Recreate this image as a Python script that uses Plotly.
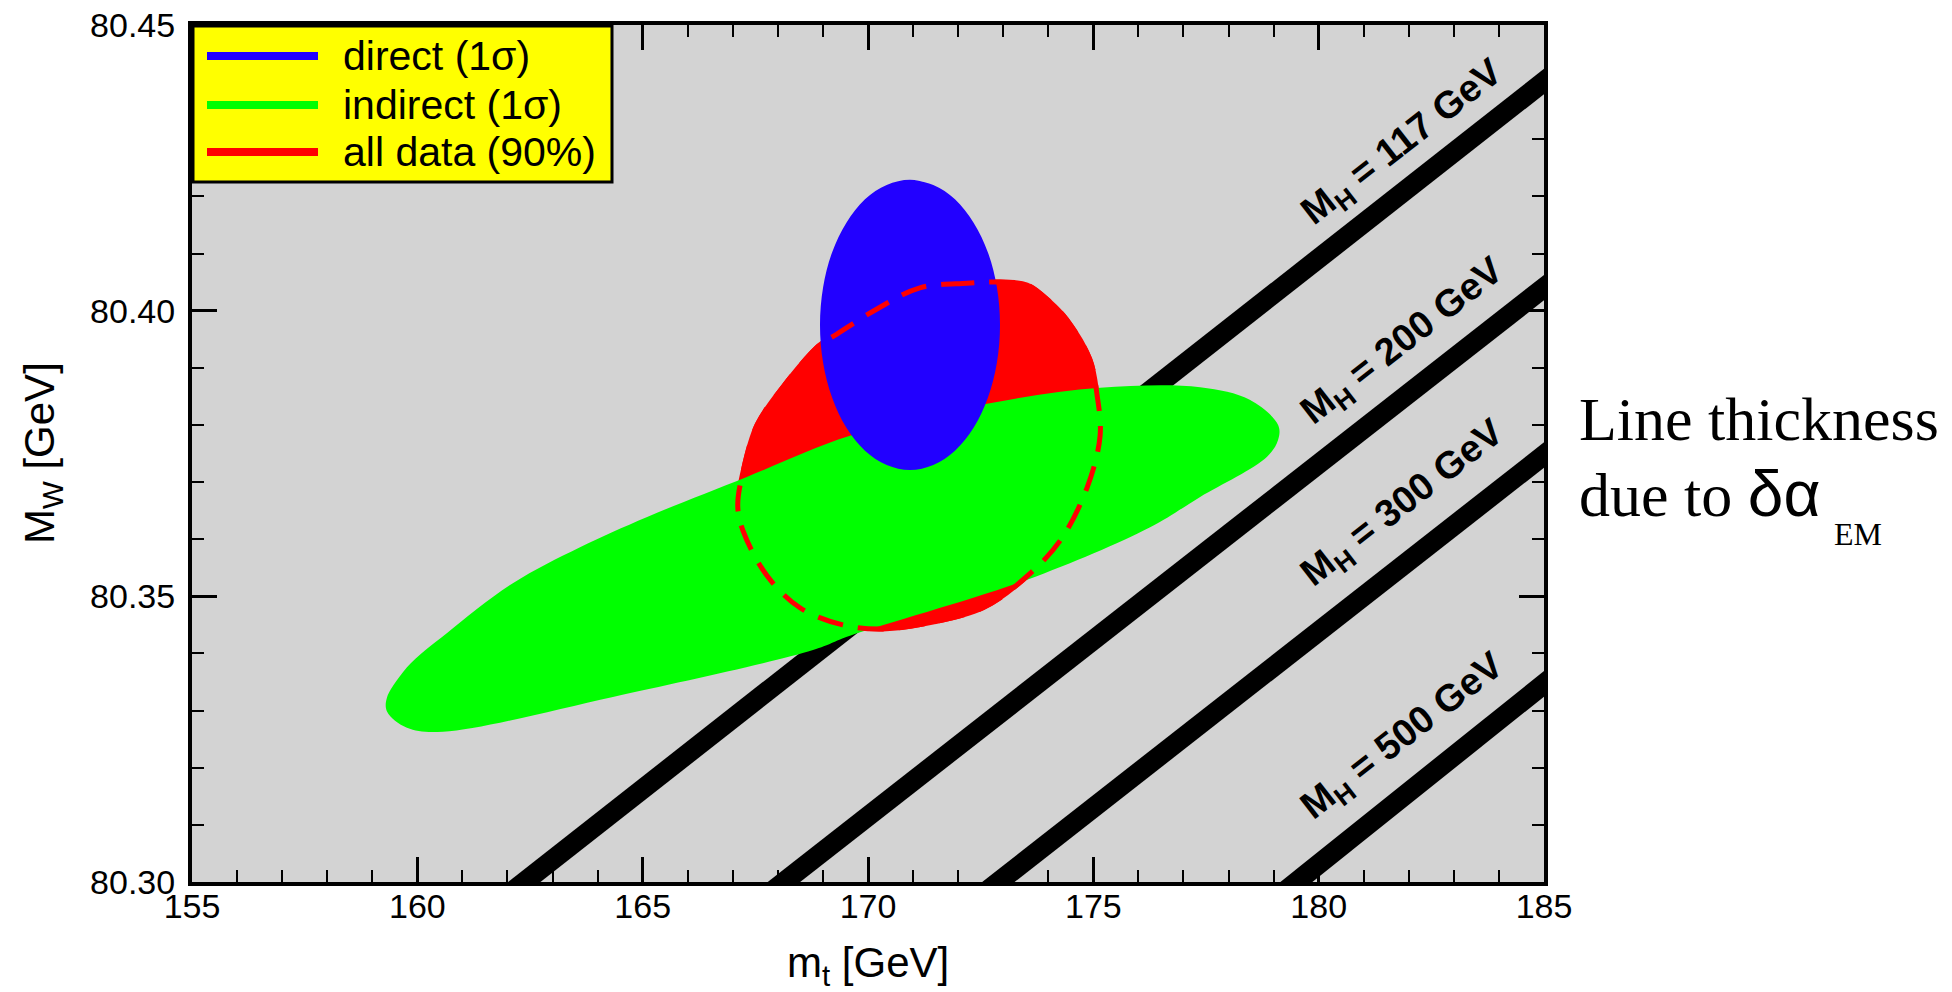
import plotly.graph_objects as go

# ---------------- data ----------------
# direct (1 sigma) contour: m_t [GeV], M_W [GeV]
direct_mt = [170.932, 171.449, 171.930, 172.343, 172.661, 172.860, 172.929, 172.860, 172.661, 172.343,
             171.930, 171.449, 170.932, 170.415, 169.933, 169.521, 169.203, 169.004, 168.935, 169.004,
             169.203, 169.521, 169.933, 170.415]
direct_mw = [80.4229, 80.4220, 80.4195, 80.4154, 80.4102, 80.4041, 80.3975, 80.3909, 80.3848, 80.3795,
             80.3755, 80.3730, 80.3721, 80.3730, 80.3755, 80.3795, 80.3848, 80.3909, 80.3975, 80.4041,
             80.4102, 80.4154, 80.4195, 80.4220]

# indirect (1 sigma) contour
indirect_mt = [159.33, 159.77, 160.66, 162.12, 163.61, 165.10, 167.31, 169.60, 172.64, 175.15,
               177.37, 178.47, 179.10, 179.10, 178.85, 177.37, 176.26, 173.53, 169.60, 168.78,
               164.34, 160.57, 159.77, 159.33]
indirect_mw = [80.3324, 80.3376, 80.3436, 80.3523, 80.3586, 80.3639, 80.3709, 80.3781, 80.3837, 80.3865,
               80.3866, 80.3844, 80.3800, 80.3774, 80.3744, 80.3674, 80.3621, 80.3529, 80.3431, 80.3406,
               80.3324, 80.3263, 80.3270, 80.3298]

# all data (90%) contour
all_mt = [172.93, 172.20, 171.15, 170.20, 169.31, 168.93, 168.11, 167.54, 167.23, 167.11,
          167.23, 167.76, 168.49, 169.44, 170.33, 171.44, 172.55, 173.44, 174.26, 174.86,
          175.15, 175.08, 174.92, 174.41, 174.04, 173.53]
all_mw = [80.4050, 80.4048, 80.4040, 80.4003, 80.3959, 80.3940, 80.3866, 80.3800, 80.3719, 80.3658,
          80.3614, 80.3536, 80.3480, 80.3450, 80.3443, 80.3455, 80.3480, 80.3529, 80.3597, 80.3690,
          80.3781, 80.3854, 80.3915, 80.3984, 80.4015, 80.4045]

# SM prediction bands for fixed Higgs masses (end points)
mh_labels = ["117", "200", "300", "500"]
mh_mt = [[161.0, 186.0], [167.0, 186.0], [171.5, 186.0], [178.0, 186.0]]
mh_mw = [[80.2915, 80.4463], [80.2930, 80.4102], [80.2914, 80.3809], [80.2905, 80.3410]]
mh_label_mt = [181.89, 181.89, 181.89, 181.89]
mh_label_mw = [80.4293, 80.3945, 80.3662, 80.3254]

legend_names = ["direct (1σ)", "indirect (1σ)", "all data (90%)"]
legend_colors = ["#2200FF", "#00FF00", "#FF0000"]

x_range = [155, 185]
y_range = [80.30, 80.45]

# ---------------- figure ----------------
W, H = 1952, 992
PL, PR, PT, PB = 192, 1544, 25, 882   # plot area in pixels
pw, ph = PR - PL, PB - PT


def px(X):
    return (X - PL) / pw


def py(Y):
    return (PB - Y) / ph


def closed(v):
    return v + v[:2]


SANS = "Liberation Sans, Arial, Helvetica, sans-serif"
SERIF = "Liberation Serif, Times New Roman, serif"

fig = go.Figure()

for mts, mws in zip(mh_mt, mh_mw):
    fig.add_trace(go.Scatter(x=mts, y=mws, mode="lines",
                             line=dict(color="black", width=20), hoverinfo="skip"))

fig.add_trace(go.Scatter(x=closed(all_mt), y=closed(all_mw), mode="lines", fill="toself",
                         fillcolor="#FF0000", line=dict(width=5, shape="spline", color="#FF0000"),
                         hoverinfo="skip"))
fig.add_trace(go.Scatter(x=closed(indirect_mt), y=closed(indirect_mw), mode="lines", fill="toself",
                         fillcolor="#00FF00", line=dict(width=0, shape="spline", color="#00FF00"),
                         hoverinfo="skip"))
fig.add_trace(go.Scatter(x=closed(direct_mt), y=closed(direct_mw), mode="lines", fill="toself",
                         fillcolor="#2200FF", line=dict(width=0, shape="spline", color="#2200FF"),
                         hoverinfo="skip"))
fig.add_trace(go.Scatter(x=all_mt + all_mt[:1], y=all_mw + all_mw[:1], mode="lines",
                         line=dict(width=5, shape="spline", color="#FF0000", dash="26px,15px"),
                         hoverinfo="skip"))

for lab, lx, ly in zip(mh_labels, mh_label_mt, mh_label_mw):
    fig.add_annotation(x=lx, y=ly, xref="x", yref="y", showarrow=False, textangle=-38,
                       xanchor="center", yanchor="middle",
                       text="<b>M<sub>H</sub> = %s GeV</b>" % lab,
                       font=dict(family=SANS, size=38, color="black"))

# legend box
fig.add_shape(type="rect", xref="paper", yref="paper", x0=px(193), x1=px(612), y0=py(182), y1=py(26),
              fillcolor="#FFFF00", line=dict(color="black", width=3), layer="above")
rows = [56, 105, 152]
for name, col, r in zip(legend_names, legend_colors, rows):
    fig.add_shape(type="line", xref="paper", yref="paper", x0=px(207), x1=px(318), y0=py(r), y1=py(r),
                  line=dict(color=col, width=8), layer="above")
    fig.add_annotation(x=px(341), y=py(r), xref="paper", yref="paper", xanchor="left", yanchor="middle",
                       showarrow=False, text=name,
                       font=dict(family=SANS, size=41, color="black"))

# axis titles
fig.add_annotation(x=px(42), y=py(453), xref="paper", yref="paper", showarrow=False, textangle=-90,
                   xanchor="center", yanchor="middle",
                   text="M<sub>W</sub> [GeV]",
                   font=dict(family=SANS, size=42, color="black"))
fig.add_annotation(x=px(868), y=py(965), xref="paper", yref="paper", showarrow=False,
                   xanchor="center", yanchor="middle",
                   text="m<sub>t</sub> [GeV]",
                   font=dict(family=SANS, size=42, color="black"))

# side note
fig.add_annotation(x=px(1577), y=py(419), xref="paper", yref="paper", xanchor="left", yanchor="middle",
                   showarrow=False, text="Line thickness",
                   font=dict(family=SERIF, size=62, color="black"))
fig.add_annotation(x=px(1577), y=py(494), xref="paper", yref="paper", xanchor="left", yanchor="middle",
                   showarrow=False,
                   text="due to <span style='font-family:Liberation Sans, Arial, sans-serif;font-size:64px'>δα</span>",
                   font=dict(family=SERIF, size=62, color="black"))
fig.add_annotation(x=px(1832), y=py(534), xref="paper", yref="paper", xanchor="left", yanchor="middle",
                   showarrow=False, text="EM",
                   font=dict(family=SERIF, size=32, color="black"))

tickfont = dict(family=SANS, size=34, color="black")
common = dict(showgrid=False, zeroline=False, showline=True, linecolor="black", linewidth=4,
              mirror="allticks", ticks="inside", tickcolor="black", tickwidth=2.5, ticklen=25,
              tickfont=tickfont, ticklabeloverflow="allow")

fig.update_xaxes(range=x_range, tick0=155, dtick=5, ticklabelstandoff=-9,
                 minor=dict(dtick=1, ticks="inside", ticklen=12, tickwidth=2, tickcolor="black", showgrid=False),
                 **common)
fig.update_yaxes(range=y_range, tick0=80.30, dtick=0.05, tickformat=".2f", ticklabelstandoff=6,
                 minor=dict(dtick=0.01, ticks="inside", ticklen=12, tickwidth=2, tickcolor="black", showgrid=False),
                 **common)

fig.update_layout(width=W, height=H,
                  margin=dict(l=PL, r=W - PR, t=PT, b=H - PB, autoexpand=False),
                  plot_bgcolor="#D3D3D3", paper_bgcolor="white", showlegend=False)

fig.write_html("out.html", config={"displayModeBar": False},
               post_script="document.body.style.margin='0px';document.body.style.overflow='hidden';")
